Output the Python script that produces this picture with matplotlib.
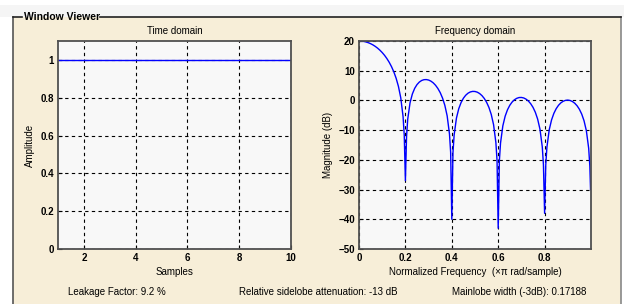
import matplotlib
matplotlib.use("Agg")
import matplotlib.pyplot as plt
from matplotlib.patches import Rectangle

plt.rcParams['font.family'] = ['Liberation Sans', 'DejaVu Sans']

# ---- data ----
samples = [1, 2, 3, 4, 5, 6, 7, 8, 9, 10]
amplitude = [1, 1, 1, 1, 1, 1, 1, 1, 1, 1]

freq = [0.00, 0.01, 0.02, 0.03, 0.04, 0.05, 0.06, 0.07, 0.08, 0.09,
        0.10, 0.11, 0.12, 0.13, 0.14, 0.15, 0.16, 0.17, 0.18, 0.19, 0.195,
        0.20, 0.205, 0.21, 0.22, 0.23, 0.24, 0.25, 0.26, 0.27, 0.28, 0.29,
        0.30, 0.31, 0.32, 0.33, 0.34, 0.35, 0.36, 0.37, 0.38, 0.39, 0.395,
        0.40, 0.405, 0.41, 0.42, 0.43, 0.44, 0.45, 0.46, 0.47, 0.48, 0.49,
        0.50, 0.51, 0.52, 0.53, 0.54, 0.55, 0.56, 0.57, 0.58, 0.59, 0.595,
        0.60, 0.605, 0.61, 0.62, 0.63, 0.64, 0.65, 0.66, 0.67, 0.68, 0.69,
        0.70, 0.71, 0.72, 0.73, 0.74, 0.75, 0.76, 0.77, 0.78, 0.79, 0.795,
        0.80, 0.805, 0.81, 0.82, 0.83, 0.84, 0.85, 0.86, 0.87, 0.88, 0.89,
        0.90, 0.91, 0.92, 0.93, 0.94, 0.95, 0.96, 0.97, 0.98, 0.99, 0.995, 0.998]
magnitude = [20.0, 19.96, 19.86, 19.68, 19.43, 19.10, 18.69, 18.19, 17.60, 16.91,
             16.11, 15.19, 14.11, 12.86, 11.39, 9.63, 7.47, 4.71, 0.89, -5.48, -11.69,
             -27.0, -12.11, -6.32, -0.80, 2.17, 4.07, 5.33, 6.18, 6.71, 6.98, 7.02,
             6.86, 6.49, 5.91, 5.10, 4.02, 2.63, 0.80, -1.65, -5.20, -11.31, -17.40,
             -40.0, -17.58, -11.68, -5.95, -2.78, -0.70, 0.74, 1.75, 2.44, 2.86, 3.04,
             3.01, 2.77, 2.31, 1.62, 0.66, -0.63, -2.35, -4.71, -8.15, -14.17, -20.22,
             -43.0, -20.32, -14.37, -8.55, -5.30, -3.15, -1.63, -0.54, 0.22, 0.71, 0.97,
             1.00, 0.83, 0.43, -0.20, -1.10, -2.32, -3.98, -6.28, -9.67, -15.63, -21.65,
             -38.0, -21.69, -15.72, -9.85, -6.55, -4.34, -2.77, -1.63, -0.82, -0.28, 0.02,
             0.11, -0.02, -0.37, -0.95, -1.80, -2.98, -4.60, -6.85, -10.20, -16.11, -22.1, -30.0]

time_xticks = [2, 4, 6, 8, 10]
time_yticks = [0, 0.2, 0.4, 0.6, 0.8, 1]
time_yticklabels = ['0', '0.2', '0.4', '0.6', '0.8', '1']
freq_xticks = [0, 0.2, 0.4, 0.6, 0.8]
freq_xticklabels = ['0', '0.2', '0.4', '0.6', '0.8']
freq_yticks = [-50, -40, -30, -20, -10, 0, 10, 20]

info_texts = ["Leakage Factor: 9.2 %",
              "Relative sidelobe attenuation: -13 dB",
              "Mainlobe width (-3dB): 0.17188"]

W, H = 624, 304
fig = plt.figure(figsize=(W / 100, H / 100), dpi=100)
fig.patch.set_facecolor('white')

# background frame axes in pixel coordinates
bg = fig.add_axes([0, 0, 1, 1], zorder=0)
bg.set_xlim(0, W)
bg.set_ylim(H, 0)
bg.axis('off')
cream = '#F7EED8'
bg.add_patch(Rectangle((0, 5), W, 12, facecolor='#F5F5F5', edgecolor='none'))
bg.add_patch(Rectangle((13, 17), 608, H - 17, facecolor=cream, edgecolor='none'))
bg.plot([13, 13], [17, H], color='#555555', lw=1.2)
bg.plot([621, 621], [17, H], color='#888888', lw=1.2)
bg.plot([13, 22], [17, 17], color='#222222', lw=1.2)
bg.plot([100, 621], [17, 17], color='#222222', lw=1.2)
bg.text(24, 17, "Window Viewer", fontsize=7.5, fontweight='bold',
        ha='left', va='center', color='black')

fs = 7
axcol = '#F8F8F8'


def style(ax):
    ax.set_facecolor(axcol)
    for s in ax.spines.values():
        s.set_color('#505050')
        s.set_linewidth(1.3)
    ax.grid(True, color='black', linestyle=(0, (3, 3)), linewidth=0.8)
    ax.tick_params(direction='in', length=3, width=0.8, labelsize=fs, pad=3,
                   colors='black')
    for lab in ax.get_xticklabels() + ax.get_yticklabels():
        lab.set_fontweight('bold')


# time domain
ax1 = fig.add_axes([58 / W, (H - 249) / H, 233 / W, 208 / H], zorder=2)
ax1.plot(samples, amplitude, color='#0000FF', lw=1.0)
ax1.set_xlim(1, 10)
ax1.set_ylim(0, 1.1)
ax1.set_xticks(time_xticks)
ax1.set_yticks(time_yticks)
ax1.set_yticklabels(time_yticklabels)
style(ax1)
ax1.set_title("Time domain", fontsize=fs, pad=5)
ax1.set_xlabel("Samples", fontsize=fs, labelpad=3)
ax1.set_ylabel("Amplitude", fontsize=fs, labelpad=4)

# frequency domain
ax2 = fig.add_axes([359 / W, (H - 249) / H, 232 / W, 208 / H], zorder=2)
ax2.plot(freq, magnitude, color='#0000FF', lw=1.0)
ax2.set_xlim(0, 1.0)
ax2.set_ylim(-50, 20)
ax2.set_xticks(freq_xticks)
ax2.set_xticklabels(freq_xticklabels)
ax2.set_yticks(freq_yticks)
style(ax2)
ax2.set_title("Frequency domain", fontsize=fs, pad=5)
ax2.set_xlabel("Normalized Frequency  (\u00d7\u03c0 rad/sample)", fontsize=fs, labelpad=3)
ax2.set_ylabel("Magnitude (dB)", fontsize=fs, labelpad=4)

# info texts
bg.text(68, 292, info_texts[0], fontsize=fs, ha='left', va='center')
bg.text(239, 292, info_texts[1], fontsize=fs, ha='left', va='center')
bg.text(452, 292, info_texts[2], fontsize=fs, ha='left', va='center')

fig.savefig("out.png", dpi=100, facecolor=fig.get_facecolor())
